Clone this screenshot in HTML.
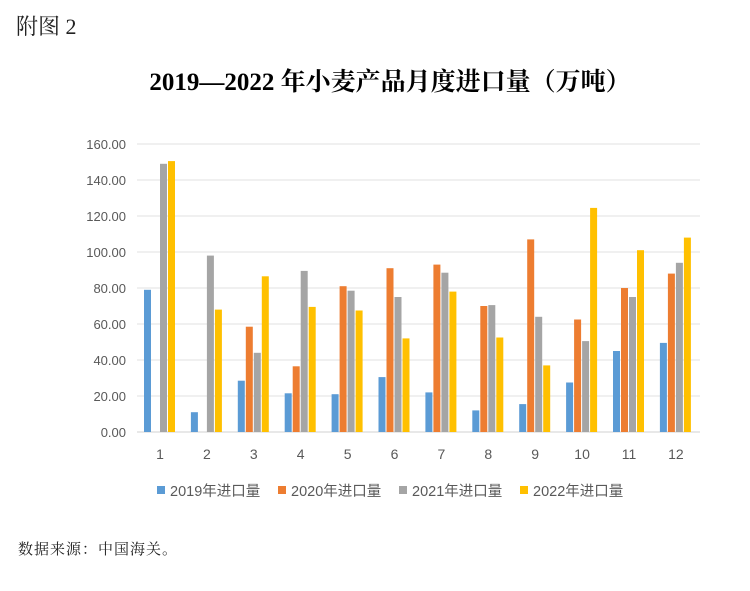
<!DOCTYPE html>
<html><head><meta charset="utf-8"><style>
body{margin:0;background:#fff;width:750px;height:591px;overflow:hidden;position:relative;font-family:"Liberation Serif","Noto Serif CJK SC",serif}
.t{position:absolute}
</style></head><body>
<div class="t" style="left:16px;top:10px;font-size:22px;color:#222">附图 2</div>
<div class="t" style="left:0;width:780px;top:62px;text-align:center;font-size:25px;font-weight:bold;color:#000">2019—2022 年小麦产品月度进口量（万吨）</div>
<div class="t" style="left:18px;top:538px;font-size:15px;color:#222;letter-spacing:1px">数据来源：中国海关。</div>
<svg id="c" width="750" height="591" style="position:absolute;left:0;top:0"></svg>
<script>
const categories=["1","2","3","4","5","6","7","8","9","10","11","12"];
const seriesNames=["2019年进口量","2020年进口量","2021年进口量","2022年进口量"];
const s2019=[79,11,28.5,21.5,21,30.5,22,12,15.5,27.5,45,49.5];
const s2020=[0,0,58.5,36.5,81,91,93,70,107,62.5,80,88];
const s2021=[149,98,44,89.5,78.5,75,88.5,70.5,64,50.5,75,94];
const s2022=[150.5,68,86.5,69.5,67.5,52,78,52.5,37,124.5,101,108];
const yTicks=[0,20,40,60,80,100,120,140,160];
const colors=["#5b9bd5","#ed7d31","#a5a5a5","#ffc000"];
const svg=document.getElementById('c');const NS="http://www.w3.org/2000/svg";
const y=v=>432-v*1.8, x=i=>160+i*46.9;
function mk(t,a){const e=document.createElementNS(NS,t);for(const k in a)e.setAttribute(k,a[k]);svg.appendChild(e);return e;}
yTicks.forEach(v=>{
 const l=mk('line',{x1:137,x2:700,y1:y(v),y2:y(v),stroke:v===0?'#d0d0d0':'#e0e0e0','stroke-width':1});
 
 
 const t=mk('text',{x:126,y:y(v)+5,'text-anchor':'end','font-size':13,fill:'#595959','font-family':'Liberation Sans, sans-serif'});
 t.textContent=v.toFixed(2);
 
 
});
[s2019,s2020,s2021,s2022].forEach((s,k)=>{
 s.forEach((v,i)=>{
  if(v<=0)return;
  const r=mk('rect',{x:x(i)-16+k*8,y:y(v),width:7,height:v*1.8,fill:colors[k]});
  
  
 });
});
categories.forEach((c,i)=>{
 const t=mk('text',{x:x(i),y:459,'text-anchor':'middle','font-size':14,fill:'#595959','font-family':'Liberation Sans, sans-serif'});
 t.textContent=c;
 
 
});
const lx=[157,278,399,520];
seriesNames.forEach((n,k)=>{
 const r=mk('rect',{x:lx[k],y:486,width:8,height:8,fill:colors[k]});
 
 
 const t=mk('text',{x:lx[k]+13,y:496,'font-size':14.5,fill:'#595959','font-family':'Liberation Sans, Noto Sans CJK SC, sans-serif'});
 t.textContent=n;
 
 
});
</script>
</body></html>
